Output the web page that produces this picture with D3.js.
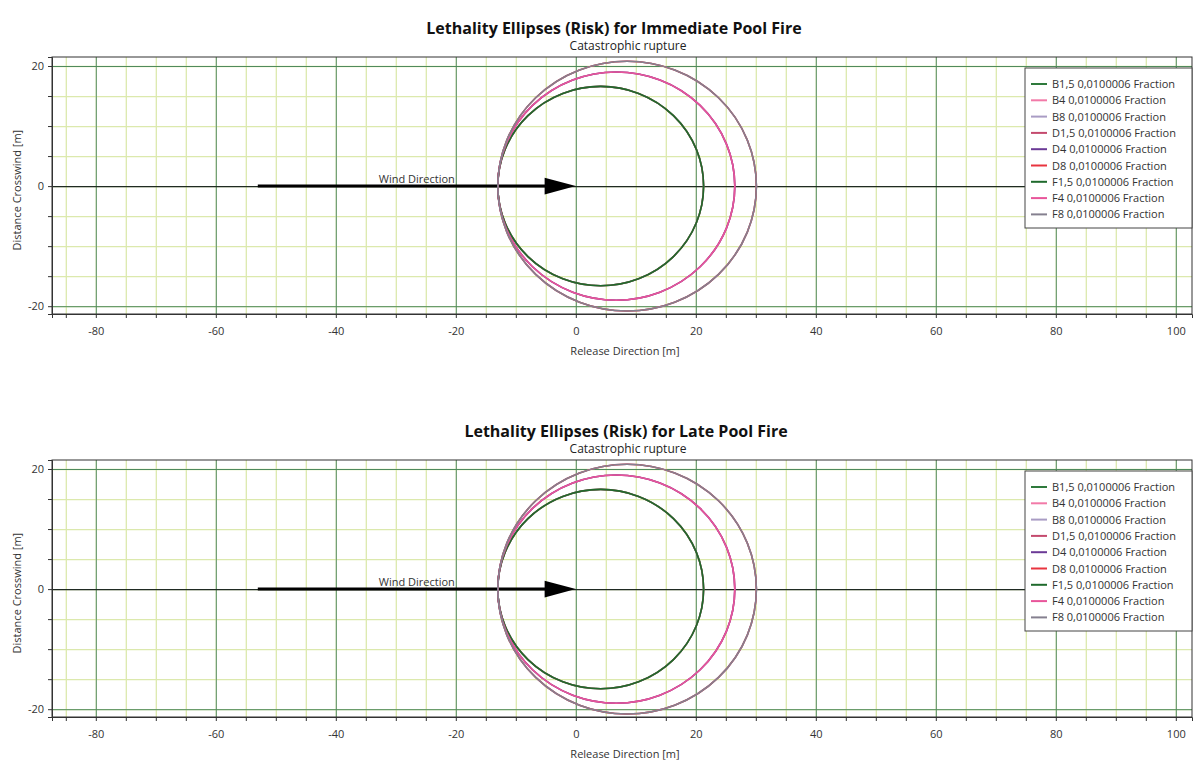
<!DOCTYPE html>
<html>
<head>
<meta charset="utf-8">
<script src="https://cdn.jsdelivr.net/npm/d3@7"></script>
<style>
    body { margin: 0; background: #fff; }
    svg { display: block; font-family: "Open Sans", "Noto Sans", sans-serif; }
</style>
</head>
<body>
<svg id="chart" width="1202" height="762"></svg>
<script>
// chart data
const panelTitles = ['Lethality Ellipses (Risk) for Immediate Pool Fire', 'Lethality Ellipses (Risk) for Late Pool Fire'];
const panelSubtitle = 'Catastrophic rupture';
const weathers = ['B1,5', 'B4', 'B8', 'D1,5', 'D4', 'D8', 'F1,5', 'F4', 'F8'];
const riskLabel = '0,0100006 Fraction';
// ellipse extents in metres (same for both fire types)
const upwind = [-13, -13, -13, -13, -13, -13, -13, -13, -13];
const downwind = [21.3, 26.5, 30.1, 21.3, 26.5, 30.1, 21.3, 26.5, 30.1];
const halfWidth = [16.6, 19.0, 20.8, 16.6, 19.0, 20.8, 16.6, 19.0, 20.8];
const colors = ['#2f7a3c', '#f27aa8', '#a99cc4', '#c44a6e', '#6b3a96', '#e8343f', '#1f6a2c', '#e8559a', '#85808f'];
const xLabelTicks = [-80, -60, -40, -20, 0, 20, 40, 60, 80, 100];
const yLabelTicks = [-20, 0, 20];
const windFrom = -53, windTo = 0;

const svg = d3.select('#chart');
const panelGap = 403;

function drawPanel(p) {
    const oy = p * panelGap;
    const margin = { left: 52, right: 10, top: 57 + oy, bottom: 314 + oy };

    const x = d3.scaleLinear().domain([-87.3, 102.7]).range([margin.left, 1202 - margin.right]);
    const y = d3.scaleLinear().domain([-21.3, 21.5]).range([margin.bottom, margin.top]);

    const g = svg.append('g').attr('class', 'panel');

    // titles
    g.append('text')
        .attr('x', p === 0 ? 614 : 626).attr('y', 34 + oy)
        .attr('text-anchor', 'middle')
        .style('font-size', '16px').style('font-weight', 'bold').style('fill', '#111')
        .text(panelTitles[p]);
    g.append('text')
        .attr('x', 628).attr('y', 50 + oy)
        .attr('text-anchor', 'middle')
        .style('font-size', '12px').style('fill', '#222')
        .text(panelSubtitle);

    // minor gridlines
    const minorX = d3.range(-85, 103, 5);
    const minorY = d3.range(-20, 21, 5);
    g.append('g')
        .attr('class', 'grid-minor')
        .attr('transform', `translate(0, ${margin.bottom})`)
        .call(d3.axisBottom(x).tickValues(minorX).tickSize(-(margin.bottom - margin.top)).tickFormat(''))
        .call(a => a.select('.domain').remove())
        .selectAll('line').attr('stroke', '#dce9ad').attr('stroke-width', 1.3);
    g.append('g')
        .attr('class', 'grid-minor')
        .attr('transform', `translate(${margin.left}, 0)`)
        .call(d3.axisLeft(y).tickValues(minorY).tickSize(-(x.range()[1] - margin.left)).tickFormat(''))
        .call(a => a.select('.domain').remove())
        .selectAll('line').attr('stroke', '#dce9ad').attr('stroke-width', 1.3);

    // major gridlines
    g.append('g')
        .attr('transform', `translate(0, ${margin.bottom})`)
        .call(d3.axisBottom(x).tickValues(xLabelTicks).tickSize(-(margin.bottom - margin.top)).tickFormat(''))
        .call(a => a.select('.domain').remove())
        .selectAll('line').attr('stroke', '#5a8f6a').attr('stroke-width', 1);
    g.append('g')
        .attr('transform', `translate(${margin.left}, 0)`)
        .call(d3.axisLeft(y).tickValues(yLabelTicks).tickSize(-(x.range()[1] - margin.left)).tickFormat(''))
        .call(a => a.select('.domain').remove())
        .selectAll('line').attr('stroke', d => d === 0 ? '#1f2a22' : '#4f8a5c').attr('stroke-width', d => d === 0 ? 1.2 : 1);

    // frame
    g.append('rect')
        .attr('x', margin.left).attr('y', margin.top)
        .attr('width', x.range()[1] - margin.left).attr('height', margin.bottom - margin.top)
        .attr('fill', 'none').attr('stroke', '#333').attr('stroke-width', 1);

    // axes
    const xAxis = g.append('g')
        .attr('transform', `translate(0, ${margin.bottom})`)
        .call(d3.axisBottom(x).tickValues(minorX).tickSize(4).tickPadding(9)
            .tickFormat(d => xLabelTicks.includes(d) ? d : ''));
    const yAxis = g.append('g')
        .attr('transform', `translate(${margin.left}, 0)`)
        .call(d3.axisLeft(y).tickValues(minorY).tickSize(4).tickPadding(4)
            .tickFormat(d => yLabelTicks.includes(d) ? d : ''));
    [xAxis, yAxis].forEach(a => {
        a.select('.domain').attr('stroke', '#333');
        a.selectAll('line').attr('stroke', '#333');
        a.selectAll('text').style('font-size', '11px').style('fill', '#333').style('font-family', '"Open Sans", sans-serif');
    });

    g.append('text')
        .attr('x', 625).attr('y', margin.bottom + 41)
        .attr('text-anchor', 'middle')
        .style('font-size', '11px').style('fill', '#333')
        .text('Release Direction [m]');
    g.append('text')
        .attr('transform', `translate(21, ${y(0) + 4}) rotate(-90)`)
        .attr('text-anchor', 'middle')
        .style('font-size', '11px').style('fill', '#333')
        .text('Distance Crosswind [m]');

    // wind direction arrow
    g.append('line')
        .attr('x1', x(windFrom)).attr('x2', x(windTo - 4.5))
        .attr('y1', y(0)).attr('y2', y(0))
        .attr('stroke', '#000').attr('stroke-width', 3);
    g.append('path')
        .attr('d', d3.line()([[x(windTo - 5.2), y(1.4)], [x(windTo), y(0)], [x(windTo - 5.2), y(-1.4)]]) + 'Z')
        .attr('fill', '#000');
    g.append('text')
        .attr('x', x((windFrom + windTo) / 2)).attr('y', y(0) - 3)
        .attr('text-anchor', 'middle')
        .style('font-size', '11px').style('fill', '#333')
        .text('Wind Direction');

    // lethality ellipses
    g.append('g')
        .selectAll('ellipse')
        .data(weathers)
        .enter()
        .append('ellipse')
        .attr('cx', (d, i) => x((upwind[i] + downwind[i]) / 2))
        .attr('cy', y(0))
        .attr('rx', (d, i) => x(downwind[i]) - x((upwind[i] + downwind[i]) / 2))
        .attr('ry', (d, i) => y(0) - y(halfWidth[i]))
        .attr('fill', 'none')
        .attr('stroke', (d, i) => colors[i])
        .attr('stroke-width', 1.6);

    // legend
    const lg = g.append('g').attr('transform', `translate(1025, ${margin.top + 11})`);
    lg.append('rect')
        .attr('width', 167).attr('height', 160)
        .attr('fill', '#fff').attr('stroke', '#444').attr('stroke-width', 1);
    const item = lg.selectAll('.legend-item')
        .data(weathers)
        .enter()
        .append('g')
        .attr('class', 'legend-item')
        .attr('transform', (d, i) => `translate(0, ${16 + i * 16.3})`);
    item.append('line')
        .attr('x1', 6).attr('x2', 22)
        .attr('stroke', (d, i) => colors[i]).attr('stroke-width', 2);
    item.append('text')
        .attr('x', 27).attr('y', 4)
        .style('font-size', '11px').style('fill', '#333')
        .text(d => `${d} ${riskLabel}`);
}

panelTitles.forEach((t, p) => drawPanel(p));
</script>
</body>
</html>
